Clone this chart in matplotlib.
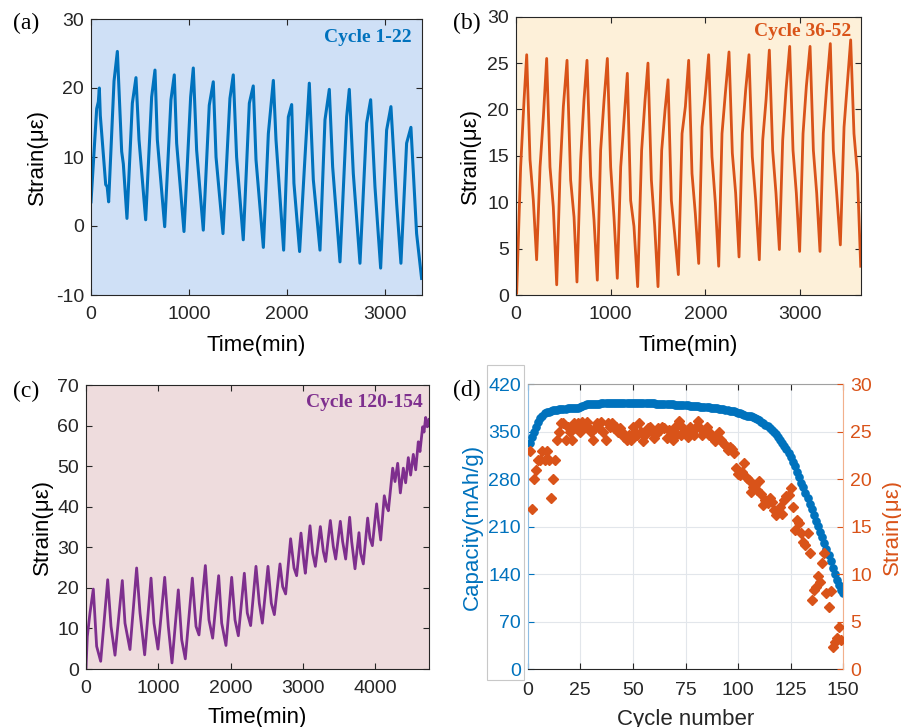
import numpy as np
import matplotlib
matplotlib.use('Agg')
import matplotlib.pyplot as plt
from matplotlib.patches import Rectangle

plt.rcParams['font.family'] = ['Liberation Sans', 'DejaVu Sans']
plt.rcParams['axes.unicode_minus'] = False

BLUE = '#0072BD'
ORANGE = '#D95319'
PURPLE = '#7E2F8E'
DARK = '#262626'

# ---------------- Panel (a): Cycle 1-22 ----------------
time_a = [0, 58, 75, 85, 95, 150, 165, 180, 235, 269, 313, 330, 367, 422, 459, 490, 558,
          619, 653, 677, 752, 816, 850, 874, 949, 1017, 1044, 1078, 1146, 1207, 1248, 1276,
          1347, 1418, 1452, 1486, 1554, 1616, 1656, 1684, 1759, 1810, 1861, 1888, 1966,
          2014, 2048, 2071, 2129, 2184, 2228, 2269, 2337, 2388, 2432, 2466, 2541, 2609,
          2636, 2677, 2745, 2813, 2854, 2898, 2956, 3017, 3061, 3119, 3163, 3221, 3265,
          3323, 3374]
strain_a = [3.5, 17, 18, 20, 16, 6, 5.7, 3.5, 21, 25.3, 10.8, 9, 1.1, 17.8, 21.5, 12.5, 0.9,
            18.7, 22.6, 12.5, -0.1, 18.3, 21.9, 12, -0.8, 18.7, 22.9, 11, -0.6, 17.5, 20.9, 10,
            -1.1, 18.5, 21.9, 10, -2, 17.8, 20.3, 9.6, -3.1, 13.4, 21.1, 12.5, -3.5,
            15.8, 17.6, 6.2, -3.7, 10, 20.7, 6.7, -3.5, 15.4, 19.8, 8.6, -5.2, 15.8,
            19.8, 7.6, -5.4, 14.9, 18.3, 5.7, -6.1, 13.9, 17.3, 3.3, -5.4, 12, 14.3,
            -1.1, -7.6]

# ---------------- Panel (b): Cycle 36-52 ----------------
time_b = [7, 49, 85, 113, 148, 183, 218, 254, 289, 324, 359, 394, 430, 465, 500, 539, 577,
          613, 644, 683, 718, 750, 789, 824, 859, 894, 930, 965, 1000, 1035, 1070, 1106,
          1134, 1176, 1211, 1246, 1285, 1327, 1363, 1394, 1430, 1465, 1500, 1539, 1574,
          1606, 1641, 1676, 1715, 1754, 1789, 1824, 1859, 1894, 1930, 1965, 2000, 2035,
          2070, 2106, 2141, 2176, 2211, 2250, 2285, 2320, 2356, 2391, 2426, 2461, 2496,
          2532, 2570, 2606, 2641, 2676, 2711, 2746, 2782, 2817, 2852, 2891, 2926, 2961,
          2996, 3032, 3067, 3106, 3141, 3176, 3211, 3246, 3282, 3320, 3352, 3387, 3426,
          3465, 3500, 3535, 3570, 3606, 3641]
strain_b = [0.2, 13.8, 21, 25.9, 14.6, 10.2, 3.8, 13.8, 19.2, 25.5, 13.8, 9.5, 1.1, 13.1,
            20.3, 25.3, 12.4, 8.4, 1.4, 14.6, 21, 25.3, 12.8, 8.1, 1.6, 15.6, 21, 25.5,
            13.8, 8.4, 1.8, 13.8, 17.8, 23.9, 10.2, 7.4, 0.9, 15.6, 21, 25, 12.4, 7.4, 0.9,
            15.6, 19.9, 23.2, 10.2, 6.6, 2.2, 17.4, 20.3, 25.3, 13.1, 8.8, 3.4, 18.1, 21.7,
            25.9, 14.9, 9.9, 3.1, 17.4, 21.7, 26.2, 15.3, 11, 4.1, 17.4, 22.1, 25.9, 14.9,
            10.2, 3.8, 16.7, 21, 26.4, 15.6, 11, 4.9, 16.7, 22.1, 26.8, 15.6, 11, 4.7, 17.4,
            22.5, 26.8, 15.6, 11, 4.7, 17.4, 22.5, 27.1, 15.6, 11, 5.4, 18.1, 22.8, 27.5,
            17.4, 13.1, 3.1]

# ---------------- Panel (c): Cycle 120-154 ----------------
time_c = [0, 18, 55, 101, 147, 203, 300, 346, 401, 502, 539, 608, 700, 747, 811, 899, 940,
          995, 1088, 1138, 1189, 1276, 1323, 1373, 1470, 1521, 1562, 1650, 1700, 1751, 1834,
          1876, 1935, 2014, 2060, 2106, 2189, 2230, 2276, 2350, 2396, 2438, 2516, 2562,
          2604, 2682, 2719, 2760, 2829, 2876, 2912, 2972, 3014, 3032, 3097, 3134, 3171,
          3240, 3281, 3313, 3378, 3419, 3452, 3516, 3548, 3590, 3645, 3673, 3719, 3774,
          3797, 3834, 3894, 3926, 3959, 4018, 4046, 4074, 4124, 4157, 4180, 4240, 4272,
          4309, 4346, 4387, 4419, 4456, 4488, 4525, 4558, 4594, 4617, 4654, 4673, 4696,
          4719, 4742]
strain_c = [0.2, 8, 13.8, 19.7, 5.6, 1.9, 22, 10.5, 3.4, 21.8, 11.3, 4.8, 24.9, 13.8, 3.5,
            22.4, 11.3, 4.9, 22.6, 10.5, 1.5, 19.5, 7.2, 2.5, 22.4, 10.5, 8.4, 25.5, 12.1,
            7.6, 23, 11.3, 5.8, 22.6, 12.1, 8.2, 23.6, 13.8, 10.7, 25.3, 16.2, 11.3, 25.3,
            16.2, 13.4, 25.9, 20.3, 18.5, 32.1, 24.9, 23, 33.5, 26.1, 23.6, 35.3, 28.5,
            25.3, 35.1, 29, 26.5, 36.6, 30.2, 27.1, 36.4, 31.4, 27.1, 37.4, 31.4, 24.7,
            33.6, 28.5, 25.9, 37.2, 32.2, 30.4, 40.7, 35.9, 31.8, 42.7, 40, 39, 49.5, 46.2,
            50.7, 43.4, 49.5, 45.9, 52.1, 47.8, 52.9, 49.1, 56, 53.6, 59.7, 58.4, 62, 59.7,
            61.5]

# ---------------- Panel (d): capacity & strain vs cycle ----------------
capacity = [333, 342, 350, 357, 364, 370, 374, 377, 378.5, 379.5,
            380.5, 381.5, 382, 382.5, 383, 383.5, 384, 384, 384.5, 384.5,
            385, 385, 385.5, 385.5, 386, 387.5, 390, 391, 391.5, 391.5,
            391.5, 391.5, 391.5, 391.5, 392, 392, 392, 392, 392, 392,
            392, 392, 392, 392, 392, 392, 392, 392, 392.5, 392.5,
            392.5, 392.5, 392.5, 392.5, 392.5, 392.5, 392, 392, 392, 392,
            391.5, 391.5, 391.5, 391, 391, 391, 390.5, 390.5, 390.5, 390,
            390, 390, 389.5, 389.5, 389, 389, 388.5, 388.5, 388, 388,
            387.5, 387, 387, 386.5, 386, 386, 385.5, 385, 385, 384.5,
            384, 383.5, 383, 382.5, 382, 381, 380.5, 380, 379, 378,
            377, 376, 375, 374, 373, 373, 371.5, 370, 368.5, 367,
            365, 363, 360.5, 358, 356, 353, 350, 347, 343, 338,
            333, 329, 324, 319, 313, 306, 299, 291, 283, 275,
            268, 260, 252, 244, 236, 228, 219, 211, 203, 195,
            186, 177, 168, 159, 150, 141, 132, 124, 117, 112]
strain_d = [23, 16.9, 20, 21, 22, 22, 23, 22, 23, 22, 18, 20, 22,
            24.1, 25, 25.9, 25.9, 24.1, 25.5, 25, 24.1, 25.9, 25.4, 25.9, 25,
            26, 25.5, 26, 25.4, 25, 24.1, 25.4, 25.9, 25.4, 26, 25, 24.1, 25.9, 25.5,
            25.9, 25.4, 25.5, 25, 25.4, 25,
            24.5, 24.1, 24.7, 24.1, 25.5, 25, 24.7, 25.9, 25, 24, 24.8, 25.4, 25.5, 25,
            24.3, 24.8, 25.4, 25.2, 25.5, 25.4,
            24.4, 25.2, 24.8, 24.1, 25.5, 24.8, 26.1, 24.7, 25.4, 24.8, 24.5, 25.5, 25,
            24.7, 25.5, 26.1, 25.4, 24.7, 25, 25.5,
            24.7, 24.8, 24.3, 24, 24.4, 25, 24.1, 23.8, 23.6, 23.1, 23.4, 23.2, 22.8, 21.2,
            20.6, 20.5, 20.8, 21.7, 20.1, 19.9,
            18.7, 19.2, 19.4, 18.9, 19.8, 18.5, 17.3, 17.8, 17.5, 18, 17.6, 16.8, 16.2, 16.8,
            17.1, 16.4, 17.8, 18.2,
            18.4, 19.1, 17.1, 14.7, 15.7, 15.4, 14.3, 13.4, 13.1, 14.3, 12.2, 7.3, 8.4, 8.7,
            9.8, 9.2, 11.2,
            12.2, 8, 6.6, 8.2, 2.4, 2.9, 3.3, 4.5, 3.1]
cycles_cap = np.arange(1, len(capacity) + 1)
cycles_strain = np.arange(1, len(strain_d) + 1)

W, H = 901, 727
fig = plt.figure(figsize=(W / 100, H / 100), dpi=100)


def add_ax(l, t, r, b):
    return fig.add_axes([l / W, 1 - b / H, (r - l) / W, (b - t) / H])


def style(ax, bg):
    ax.set_facecolor(bg)
    ax.tick_params(direction='in', top=True, right=True, length=4, width=0.8,
                   labelsize=14, colors=DARK)
    ax.tick_params(axis='x', pad=8)
    ax.tick_params(axis='y', pad=5)
    for s in ax.spines.values():
        s.set_color(DARK)
        s.set_linewidth(0.8)


serif = ['Liberation Serif', 'DejaVu Serif']

# (a)
axa = add_ax(91, 19, 421.7, 295)
style(axa, '#cfe0f6')
axa.plot(time_a, strain_a, color=BLUE, lw=2.2)
axa.set_xlim(0, 3375)
axa.set_ylim(-10, 30)
axa.set_xticks([0, 1000, 2000, 3000])
axa.set_yticks([-10, 0, 10, 20, 30])
axa.set_xlabel('Time(min)', fontsize=16)
axa.set_ylabel('Strain(με)', fontsize=16)
axa.xaxis.set_label_coords(0.5, -0.145)
axa.yaxis.set_label_coords(-0.13, 0.5)
axa.text(0.971, 0.933, 'Cycle 1-22', transform=axa.transAxes, ha='right', va='center',
         fontsize=14, fontweight='bold', family=serif, color=BLUE)

# (b)
axb = add_ax(516, 16.7, 860.7, 295)
style(axb, '#fdf0d9')
axb.plot(time_b, strain_b, color=ORANGE, lw=2.0)
axb.set_xlim(0, 3641)
axb.set_ylim(0, 30)
axb.set_xticks([0, 1000, 2000, 3000])
axb.set_yticks([0, 5, 10, 15, 20, 25, 30])
axb.set_xlabel('Time(min)', fontsize=16)
axb.set_ylabel('Strain(με)', fontsize=16)
axb.xaxis.set_label_coords(0.5, -0.144)
axb.yaxis.set_label_coords(-0.103, 0.5)
axb.text(0.974, 0.946, 'Cycle 36-52', transform=axb.transAxes, ha='right', va='center',
         fontsize=14, fontweight='bold', family=serif, color=ORANGE)

# (c)
axc = add_ax(86, 385, 429, 669)
style(axc, '#eedcdd')
axc.plot(time_c, strain_c, color=PURPLE, lw=2.0)
axc.set_xlim(0, 4742)
axc.set_ylim(0, 70)
axc.set_xticks([0, 1000, 2000, 3000, 4000])
axc.set_yticks(range(0, 71, 10))
axc.set_xlabel('Time(min)', fontsize=16)
axc.set_ylabel('Strain(με)', fontsize=16)
axc.xaxis.set_label_coords(0.5, -0.135)
axc.yaxis.set_label_coords(-0.097, 0.5)
axc.text(0.983, 0.938, 'Cycle 120-154', transform=axc.transAxes, ha='right', va='center',
         fontsize=14, fontweight='bold', family=serif, color=PURPLE)

# (d)
axd = add_ax(527.7, 384.3, 843.3, 669.3)
axd.set_facecolor('white')
axd.grid(True, color='#e2e6eb', lw=0.8)
axd.set_axisbelow(True)
axd.plot(cycles_cap, capacity, 'o', ms=5.2, color=BLUE, mec=BLUE, zorder=3)
axd.set_xlim(0, 150)
axd.set_ylim(0, 420)
axd.set_xticks(range(0, 151, 25))
axd.set_yticks(range(0, 421, 70))
axd.tick_params(direction='in', top=True, length=4, width=0.8, labelsize=14)
axd.tick_params(axis='x', colors=DARK, pad=9)
axd.tick_params(axis='y', colors=BLUE, pad=5)
axd.spines['left'].set_color('#8fbde3')
axd.spines['top'].set_color('#a0a0a0')
axd.spines['bottom'].set_color(DARK)
axd.spines['right'].set_visible(False)
axd.set_xlabel('Cycle number', fontsize=16, color=DARK)
axd.set_ylabel('Capacity(mAh/g)', fontsize=16, color=BLUE)
axd.xaxis.set_label_coords(0.5, -0.14)
axd.yaxis.set_label_coords(-0.141, 0.5)

axd2 = axd.twinx()
axd2.plot(cycles_strain, strain_d, 'D', ms=4.8, color=ORANGE, mec=ORANGE, zorder=3)
axd2.set_ylim(0, 30)
axd2.set_yticks(range(0, 31, 5))
axd2.tick_params(direction='in', length=4, width=0.8, labelsize=14, colors=ORANGE, pad=5)
for s in ['left', 'top', 'bottom']:
    axd2.spines[s].set_visible(False)
axd2.spines['right'].set_color('#f2b08c')
axd2.set_ylabel('Strain(με)', fontsize=16, color=ORANGE)
axd2.yaxis.set_label_coords(1.122, 0.5)

fig.patches.append(Rectangle((487 / W, 1 - 680 / H), (524 - 487) / W, (680 - 365) / H,
                             transform=fig.transFigure, fill=False, ec='#c8c8c8', lw=0.8))

# panel letters
fig.text(13 / W, 1 - 23.3 / H, '(a)', ha='left', va='center', fontsize=17, family=serif)
fig.text(452.7 / W, 1 - 23 / H, '(b)', ha='left', va='center', fontsize=17, family=serif)
fig.text(12.7 / W, 1 - 391.7 / H, '(c)', ha='left', va='center', fontsize=17, family=serif)
fig.text(452.7 / W, 1 - 390 / H, '(d)', ha='left', va='center', fontsize=17, family=serif)

fig.savefig('out.png', dpi=100)
